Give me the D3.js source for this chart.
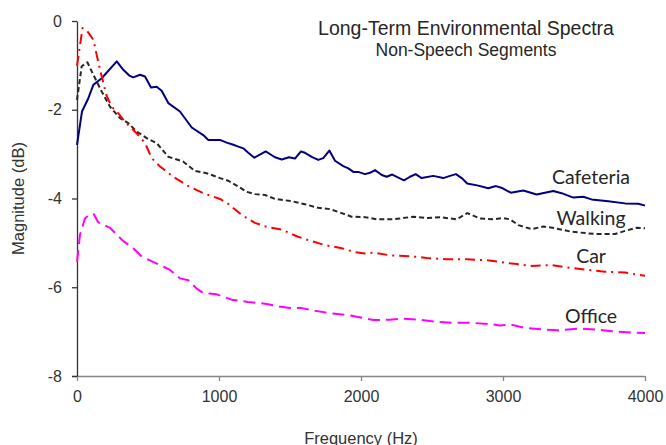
<!DOCTYPE html>
<html>
<head>
<meta charset="utf-8">
<script src="https://cdn.jsdelivr.net/npm/d3@7"></script>
<style>
  html, body { margin: 0; padding: 0; background: #fff; }
  svg { display: block; font-family: "Liberation Sans", Arial, sans-serif; }
</style>
</head>
<body>
<svg id="chart" width="666" height="445"></svg>
<script>
// ---- Data (frequency Hz, magnitude dB) ----
const cafeteria = [[0,-2.79],[35,-2.04],[80,-1.74],[115,-1.44],[174,-1.29],[280,-0.91],[326,-1.10],[368,-1.23],[396,-1.27],[444,-1.21],
  [479,-1.25],[521,-1.50],[561,-1.48],[596,-1.57],[643,-1.85],[725,-2.04],[808,-2.40],[889,-2.57],[925,-2.68],[1007,-2.68],
  [1054,-2.74],[1101,-2.79],[1136,-2.83],[1171,-2.87],[1206,-2.97],[1249,-3.08],[1329,-2.94],[1394,-3.07],[1442,-3.12],[1493,-3.07],
  [1535,-3.10],[1577,-2.94],[1606,-2.97],[1653,-3.06],[1699,-3.13],[1734,-3.09],[1777,-2.92],[1817,-3.15],[1875,-3.27],[1911,-3.32],
  [1946,-3.40],[1981,-3.40],[2028,-3.45],[2063,-3.42],[2099,-3.36],[2146,-3.47],[2181,-3.51],[2220,-3.46],[2263,-3.53],[2303,-3.59],
  [2345,-3.51],[2385,-3.45],[2427,-3.54],[2509,-3.49],[2579,-3.54],[2627,-3.49],[2669,-3.45],[2709,-3.54],[2748,-3.66],[2826,-3.71],
  [2896,-3.77],[2951,-3.72],[2998,-3.77],[3055,-3.87],[3143,-3.82],[3237,-3.91],[3354,-3.83],[3413,-3.88],[3495,-3.98],[3565,-3.96],
  [3624,-4.02],[3741,-4.06],[3859,-4.11],[3953,-4.12],[4000,-4.16]];

const walking = [[0,-1.78],[33,-1.02],[73,-0.93],[115,-1.21],[174,-1.59],[232,-1.93],[303,-2.19],[361,-2.30],[420,-2.49],[502,-2.66],
  [561,-2.75],[643,-3.06],[749,-3.17],[831,-3.38],[913,-3.43],[1007,-3.54],[1065,-3.60],[1136,-3.73],[1195,-3.85],[1253,-3.90],
  [1324,-3.92],[1394,-4.01],[1512,-4.06],[1606,-4.13],[1699,-4.21],[1782,-4.24],[1864,-4.33],[1934,-4.41],[2028,-4.42],[2111,-4.47],
  [2227,-4.47],[2368,-4.41],[2463,-4.44],[2556,-4.42],[2674,-4.47],[2748,-4.33],[2838,-4.45],[2932,-4.47],[3002,-4.44],[3049,-4.47],
  [3108,-4.60],[3202,-4.69],[3284,-4.63],[3366,-4.67],[3484,-4.75],[3648,-4.80],[3789,-4.80],[3859,-4.73],[3941,-4.66],[4000,-4.67]];

const car = [[0,-1.01],[39,-0.16],[70,-0.22],[115,-0.42],[162,-1.10],[209,-1.69],[244,-1.93],[291,-2.08],[338,-2.27],[420,-2.53],
  [479,-2.75],[526,-3.09],[585,-3.28],[678,-3.51],[772,-3.70],[889,-3.88],[1007,-4.01],[1065,-4.12],[1160,-4.37],[1253,-4.55],
  [1347,-4.65],[1442,-4.70],[1547,-4.85],[1629,-4.94],[1746,-5.05],[1864,-5.12],[1958,-5.21],[2028,-5.24],[2087,-5.22],[2204,-5.28],
  [2345,-5.30],[2463,-5.34],[2603,-5.37],[2744,-5.37],[2885,-5.39],[2979,-5.43],[3049,-5.46],[3108,-5.48],[3202,-5.52],[3343,-5.50],
  [3437,-5.55],[3577,-5.60],[3718,-5.65],[3859,-5.67],[4000,-5.74]];

const office = [[0,-5.43],[21,-4.82],[56,-4.45],[92,-4.35],[120,-4.36],[150,-4.54],[232,-4.66],[326,-4.96],[396,-5.12],[456,-5.31],
  [584,-5.50],[655,-5.61],[725,-5.80],[784,-5.84],[843,-6.03],[889,-6.13],[984,-6.16],[1089,-6.28],[1206,-6.33],[1324,-6.37],
  [1418,-6.43],[1500,-6.47],[1582,-6.47],[1676,-6.53],[1793,-6.59],[1911,-6.63],[2028,-6.70],[2087,-6.74],[2204,-6.73],[2298,-6.71],
  [2415,-6.73],[2533,-6.78],[2650,-6.80],[2768,-6.80],[2908,-6.83],[2979,-6.86],[3049,-6.84],[3164,-6.92],[3272,-6.95],[3389,-6.97],
  [3530,-6.93],[3648,-6.95],[3765,-6.99],[3906,-7.02],[4000,-7.03]];

const seriesNames = ["Cafeteria", "Walking", "Car", "Office"];
const seriesData = [cafeteria, walking, car, office];
const xTicks = [0, 1000, 2000, 3000, 4000];
const yTicks = [0, -2, -4, -6, -8];
const titleText = "Long-Term Environmental Spectra";
const subtitleText = "Non-Speech Segments";
const xLabel = "Frequency (Hz)";
const yLabel = "Magnitude (dB)";

// ---- Styles ----
const styles = [
  { color: "#000080", dash: null },
  { color: "#262626", dash: "5,3" },
  { color: "#ff0000", dash: "10,5,2,5" },
  { color: "#ff00ff", dash: "12,6" }
];
// label anchor (in data coordinates): x freq, y dB for baseline
const labelAnchors = [[3620, -3.68], [3620, -4.60], [3620, -5.46], [3620, -6.80]];

const svg = d3.select("#chart");
const x = d3.scaleLinear().domain([0, 4000]).range([77, 645]);
const y = d3.scaleLinear().domain([-8, 0]).range([376, 21]);

// X axis
const gx = svg.append("g").attr("transform", `translate(0,${y(-8)})`)
  .call(d3.axisBottom(x).tickValues(xTicks).tickSize(5).tickSizeOuter(0).tickPadding(10).tickFormat(d => String(d)));
gx.select(".domain").attr("stroke", "#868686").attr("stroke-width", 1.5).attr("d", `M${x(0)-5},0.5H${x(4000)}`);
gx.selectAll(".tick line").attr("stroke", "#868686").attr("stroke-width", 1.3);
gx.selectAll("text").attr("font-size", 16).attr("fill", "#333");

// Y axis
const gy = svg.append("g").attr("transform", `translate(${x(0)},0)`)
  .call(d3.axisLeft(y).tickValues(yTicks).tickSize(5).tickSizeOuter(0).tickPadding(10).tickFormat(d => String(d)));
gy.select(".domain").attr("stroke", "#333").attr("stroke-width", 1.3);
gy.selectAll(".tick line").attr("stroke", "#333").attr("stroke-width", 1.3);
gy.selectAll("text").attr("font-size", 16).attr("fill", "#333");

// Lines
const line = d3.line().x(d => x(d[0])).y(d => y(d[1]));
seriesData.forEach((data, i) => {
  svg.append("path")
    .datum(data)
    .attr("d", line)
    .attr("fill", "none")
    .attr("stroke", styles[i].color)
    .attr("stroke-width", 2)
    .attr("stroke-linejoin", "round")
    .attr("stroke-dasharray", styles[i].dash);
});

// Series labels
seriesNames.forEach((name, i) => {
  svg.append("text")
    .attr("x", x(labelAnchors[i][0]))
    .attr("y", y(labelAnchors[i][1]))
    .attr("text-anchor", "middle")
    .attr("font-family", "Lato, 'Open Sans', sans-serif")
    .attr("font-size", 19.5)
    .attr("fill", "#262626")
    .text(name);
});

// Title
svg.append("text").attr("x", 466).attr("y", 35).attr("text-anchor", "middle")
  .attr("font-size", 19.5).attr("fill", "#262626").text(titleText);
svg.append("text").attr("x", 466).attr("y", 56).attr("text-anchor", "middle")
  .attr("font-size", 17.5).attr("fill", "#262626").text(subtitleText);

// Axis labels
svg.append("text").attr("x", (x(0) + x(4000)) / 2).attr("y", 444).attr("text-anchor", "middle")
  .attr("font-size", 16.5).attr("fill", "#333").text(xLabel);
svg.append("text").attr("transform", `translate(24,${(y(0) + y(-8)) / 2}) rotate(-90)`).attr("text-anchor", "middle")
  .attr("font-size", 16.5).attr("fill", "#333").text(yLabel);
</script>
</body>
</html>
